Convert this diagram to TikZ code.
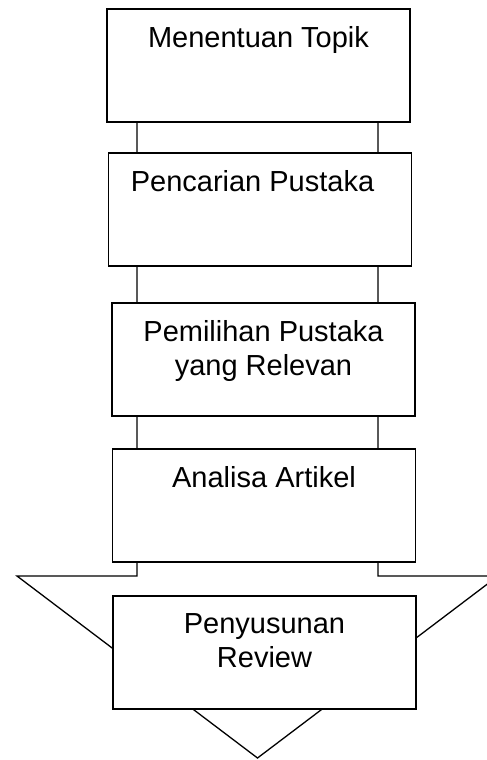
\documentclass[tikz,border=0pt]{standalone}
\usepackage{fontspec}
\setmainfont{Liberation Sans}
\usetikzlibrary{positioning}

\begin{document}
\begin{tikzpicture}[
    x=1pt, y=-1pt,
    stepbox/.style={
        rectangle,
        draw=black,
        fill=white,
        line width=1.5pt,
        minimum width=303pt,
        minimum height=113pt,
        inner sep=0pt
    },
    steptext/.style={
        anchor=north,
        align=center,
        inner sep=0pt,
        yshift=-18.4pt,
        font=\fontsize{29}{34}\selectfont
    },
    bigarrow/.style={
        draw=black,
        fill=white,
        line width=1.3pt,
        line join=miter
    }
]
\useasboundingbox (0,0) rectangle (487,760);
% big arrow behind the boxes
\draw[bigarrow] (137,66) -- (137,576) -- (17,576) -- (257.5,758) -- (498,576) -- (378,576) -- (378,66) -- cycle;

\node[stepbox, label={[steptext]north:Menentuan Topik}] (topik) at (258.5,65.5) {};
\node[stepbox, below=29.5pt of topik, xshift=1.5pt, label={[steptext, xshift=-7.5pt]north:Pencarian Pustaka}] (pencarian) {};
\node[stepbox, below=35.5pt of pencarian, xshift=3.5pt, label={[steptext]north:Pemilihan Pustaka\\yang Relevan}] (pemilihan) {};
\node[stepbox, below=31.5pt of pemilihan, xshift=0.5pt, label={[steptext]north:Analisa Artikel}] (analisa) {};
\node[stepbox, below=32.5pt of analisa, xshift=0.5pt, label={[steptext]north:Penyusunan\\Review}] (review) {};
\end{tikzpicture}
\end{document}
